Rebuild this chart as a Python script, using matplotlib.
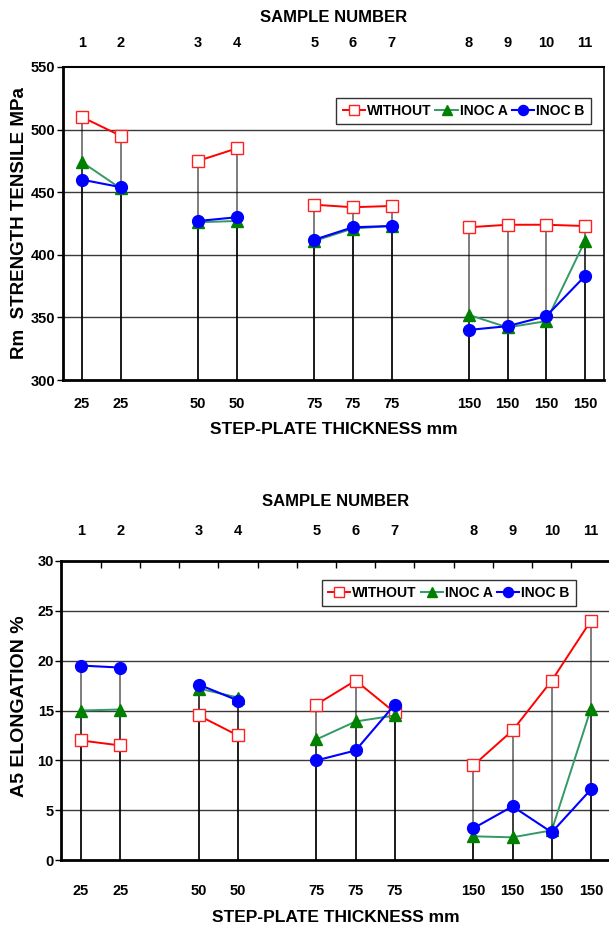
import matplotlib
matplotlib.use('Agg')
import matplotlib.pyplot as plt
import numpy as np

plt.rcParams['font.family'] = ['Liberation Sans', 'DejaVu Sans']
plt.rcParams['font.weight'] = 'bold'

# data
sample_no = ['1', '2', '3', '4', '5', '6', '7', '8', '9', '10', '11']
thickness = ['25', '25', '50', '50', '75', '75', '75', '150', '150', '150', '150']
group_sizes = [2, 2, 3, 4]   # samples cast on the same step

rm_without = [510, 495, 475, 485, 440, 438, 439, 422, 424, 424, 423]
rm_inoc_a = [474, 453, 426, 427, 411, 421, 423, 352, 342, 347, 411]
rm_inoc_b = [460, 454, 427, 430, 412, 422, 423, 340, 343, 351, 383]

el_without = [12, 11.5, 14.5, 12.5, 15.6, 18, 14.8, 9.5, 13, 18, 24]
el_inoc_a = [15, 15.1, 17.2, 16.3, 12.1, 13.9, 14.5, 2.4, 2.3, 3, 15.2]
el_inoc_b = [19.5, 19.3, 17.6, 16, 10, 11, 15.6, 3.2, 5.4, 2.8, 7.1]

# x positions: one empty slot between groups
pos = []
p = 0
for g in group_sizes:
    pos.extend(range(p, p + g))
    p += g + 1
pos = np.array(pos)

styles = [
    ('WITHOUT', dict(color='#FF0000', marker='s', markersize=8, markerfacecolor='white',
                     markeredgecolor='#FF2020', markeredgewidth=1.0, linewidth=1.4)),
    ('INOC A', dict(color='#339966', marker='^', markersize=8, markerfacecolor='#008000',
                    markeredgecolor='#008000', linewidth=1.4)),
    ('INOC B', dict(color='#0000FF', marker='o', markersize=8.5, markerfacecolor='#0000FF',
                    markeredgecolor='#0000FF', linewidth=1.5)),
]

W, H = 609, 926
fig = plt.figure(figsize=(W / 100, H / 100), dpi=100)


def px_axes(l, r, t, b):
    return fig.add_axes([l / W, 1 - b / H, (r - l) / W, (b - t) / H])


def draw_panel(ax, series, ylim, yticks, top_pad, bot_pad, top_minor):
    ymin = ylim[0]
    # drop lines for every series (overlap gives the darker bottom parts)
    for vals in series:
        ax.vlines(pos, ymin, vals, color='black', alpha=0.55, linewidth=1.3, zorder=2)
    for (name, st), vals in zip(styles, series):
        start = 0
        for k, g in enumerate(group_sizes):
            idx = slice(start, start + g)
            ax.plot(pos[idx], np.array(vals)[idx], label=name if k == 0 else None,
                    zorder=3, clip_on=False, **st)
            start += g
    ax.set_xlim(-0.5, pos[-1] + 0.5)
    ax.set_ylim(*ylim)
    ax.set_yticks(yticks)
    ax.set_yticklabels([str(v) for v in yticks], fontsize=10.5, fontweight='bold')
    for v in yticks[1:-1]:
        ax.axhline(v, color='#3a3a3a', linewidth=1.0, zorder=1)
    ax.set_xticks(pos)
    ax.set_xticklabels(thickness, fontsize=10.5, fontweight='bold')
    ax.tick_params(axis='x', length=0, pad=bot_pad)
    ax.tick_params(axis='y', length=4, width=1, pad=1.5, direction='out')
    for s in ['left', 'bottom']:
        ax.spines[s].set_linewidth(2)
    ax.spines['top'].set_visible(False)

    sec = ax.secondary_xaxis('top')
    sec.set_xticks(pos)
    sec.set_xticklabels(sample_no, fontsize=10.5, fontweight='bold')
    sec.tick_params(axis='x', which='major', length=0, pad=top_pad)
    if top_minor:
        sec.set_xticks(np.arange(0.5, pos[-1], 1.0), minor=True)
        sec.tick_params(axis='x', which='minor', direction='in', length=5, width=1)
        sec.spines['top'].set_linewidth(2)
    else:
        sec.spines['top'].set_linewidth(1.5)
    return sec


def add_legend(ax, anchor):
    leg = ax.legend(loc='upper right', bbox_to_anchor=anchor, ncol=3,
                    fontsize=10, frameon=True, fancybox=False, edgecolor='black',
                    handlelength=1.6, handletextpad=0.15, columnspacing=0.3,
                    borderpad=0.45, borderaxespad=0, markerscale=0.85)
    leg.get_frame().set_linewidth(1.0)
    return leg


# top panel: tensile strength
ax1 = px_axes(62.7, 604.3, 67, 380)
draw_panel(ax1, [rm_without, rm_inoc_a, rm_inoc_b], (300, 550),
           [300, 350, 400, 450, 500, 550], top_pad=12, bot_pad=12, top_minor=False)
ax1.spines['right'].set_linewidth(1.2)
add_legend(ax1, (0.975, 0.902))

# bottom panel: elongation
ax2 = px_axes(61.4, 610.6, 560.7, 860.3)
draw_panel(ax2, [el_without, el_inoc_a, el_inoc_b], (0, 30),
           [0, 5, 10, 15, 20, 25, 30], top_pad=16, bot_pad=17, top_minor=True)
ax2.spines['right'].set_visible(False)
add_legend(ax2, (0.937, 0.936))


# axis titles
def ftext(x, y, s, **kw):
    fig.text(x / W, 1 - y / H, s, ha='center', va='center', fontweight='bold', **kw)


ftext(334, 18, 'SAMPLE NUMBER', fontsize=12)
ftext(334, 429, 'STEP-PLATE THICKNESS mm', fontsize=12.5)
ftext(20, 223, 'Rm  STRENGTH TENSILE MPa', fontsize=13.5, rotation=90)

ftext(336, 502, 'SAMPLE NUMBER', fontsize=12)
ftext(336, 917, 'STEP-PLATE THICKNESS mm', fontsize=12.5)
ftext(20, 706, 'A5 ELONGATION %', fontsize=14, rotation=90)

fig.savefig('out.png', dpi=100)
